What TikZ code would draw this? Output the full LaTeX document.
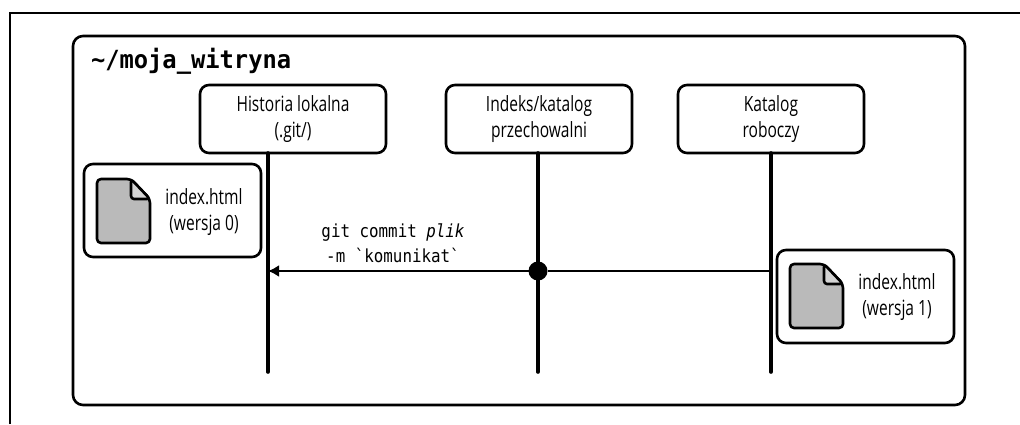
\documentclass[tikz,border=0pt]{standalone}
\usepackage{fontspec}
\usetikzlibrary{positioning,arrows.meta}
\newfontfamily\labelfont[FakeStretch=0.74]{Open Sans}
\newfontfamily\codefont[FakeStretch=0.88]{DejaVu Sans Mono}
\newfontfamily\titlefont[FakeStretch=0.95]{DejaVu Sans Mono}

\tikzset{
  every node/.style = {outer sep=0pt},
  stage/.style = {draw, line width=2.6pt, rounded corners=9pt, minimum width=186pt, minimum height=68pt, inner sep=0pt, align=center, font=\labelfont\fontsize{21}{26}\selectfont},
  filebox/.style = {draw, line width=2.6pt, rounded corners=9pt, minimum width=177pt, minimum height=93pt},
  lifeline/.style = {line width=3.6pt, line cap=round},
  doc/.style = {draw, line width=2.6pt, fill=black!27, line join=round},
  filelabel/.style = {align=center, inner sep=0pt, font=\labelfont\fontsize{21}{26}\selectfont},
  cmdlabel/.style = {align=center, inner sep=0pt, font=\codefont\fontsize{18}{25}\selectfont}
}

% one file icon, anchored at its top left corner
\newcommand{\fileicon}[1]{
  \draw[doc, rounded corners=4pt] (#1) -- ++(34pt,0) -- ++(19pt,-20pt) -- ++(0,-44pt) -- ++(-53pt,0) -- cycle;
  \draw[doc, fill=black!17, rounded corners=3pt] ([xshift=34pt]#1) -- ++(19pt,-20pt) -- ++(-19pt,0) -- cycle;
}

\begin{document}
\begin{tikzpicture}[x=1pt, y=1pt]
\useasboundingbox (0,0) rectangle (1020,424);

\coordinate (page bottom) at (10,0);
\coordinate (page corner) at (10,411);
\coordinate (page right) at (1020,411);
\draw [line width=2.4pt] (page bottom) -- (page corner) -- (page right);

\node [draw, line width=2.6pt, rounded corners=10pt, minimum width=892pt, minimum height=369pt, anchor=north west] (repo) at (73,388) {};
\node [anchor=base west, inner sep=0pt, font=\titlefont\bfseries\fontsize{25}{28}\selectfont] (title) at (91,355) {\textasciitilde/moja\_witryna};

\node [stage, anchor=north west] (historia) at (200,339) {Historia lokalna\\(.git/)};
\node [stage, right = 60pt of historia] (indeks) {Indeks/katalog\\przechowalni};
\node [stage, right = 46pt of indeks] (katalog) {Katalog\\roboczy};

\coordinate (historia end) at (268,52);
\coordinate (indeks end) at (538,52);
\coordinate (katalog end) at (771,52);

\draw [lifeline] (historia end) -- (historia end |- historia.south);
\draw [lifeline] (indeks end) -- (indeks end |- indeks.south);
\draw [lifeline] (katalog end) -- (katalog end |- katalog.south);

\coordinate (commit from) at (771,153);
\coordinate (commit to) at (268,153);
\node [circle, fill=black, minimum size=19pt, inner sep=0pt] (staged) at (538,153) {};
\draw [line width=2.6pt, -{Latex[length=11pt,width=12pt]}] (commit from) -- (staged) -- (commit to);

\node [cmdlabel] (commit) at (393,181) {git commit {\itshape plik}\\-m `komunikat`};

% left file
\node [filebox, fill=white, anchor=north west] (old) at (84,260) {};
\fileicon{97,245}
\node [filelabel] (old label) at (204,212) {index.html\\(wersja 0)};

% right file
\node [filebox, fill=white, anchor=north west] (new) at (777,174) {};
\fileicon{790,160}
\node [filelabel] (new label) at (897,127) {index.html\\(wersja 1)};
\end{tikzpicture}
\end{document}
